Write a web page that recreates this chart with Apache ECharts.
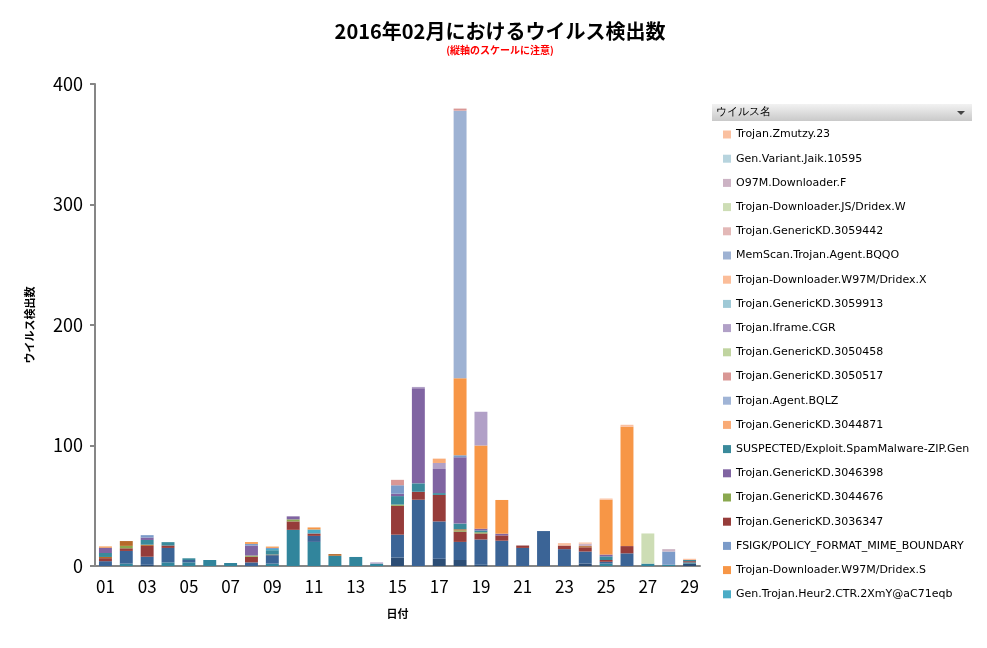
<!DOCTYPE html>
<html lang="ja">
<head>
<meta charset="UTF-8">
<title>ウイルス検出数</title>
<script src="https://cdn.jsdelivr.net/npm/echarts@6/dist/echarts.min.js"></script>
<style>
  html, body { margin: 0; padding: 0; background: #fff; }
  #chart { width: 987px; height: 648px; }
</style>
</head>
<body>
<div id="chart"></div>
<script>
// 日付 (01..29)
var days = [];
for (var i = 1; i <= 29; i++) days.push((i < 10 ? '0' : '') + i);

// 各ウイルスの日別検出数（下から積み上げ順）
var navyVals    = [0,0,1,0,0,0,0,0,0,0,0,0,0,0,7,0,6,5,1,0,0,0,0,2,0,0,0,0,2];
var tealVals    = [0,2,0,3,3,5,2.5,0,2,30,20,8.5,7.5,2,0,0,0,0,0,0,0,0,0,0,2,0,2,1,1];
var blueVals    = [4,10.5,6.7,12,2,0,0,3,7,0,5,0,0,0,19,55,31,15,21,21,15,29,14,10,1.5,10.5,0,0,0];
var kd3036347   = [2.5,2.2,9,2,0,0,0,4.7,0,7,2,0,0,0,24,6.6,22,8.5,5,4.4,2,0,3,3.5,1.5,6,0,0,1];
var kd3044676   = [0,2,0,0,0,0,0,1,0,1.7,0,0,0,0,1,0,0,1,1,0,0,0,0,0,0,0,0,0,0];
var brownVals   = [1,4,1,0,0,0,0,0,0.5,0,0,1.4,0,0,0,0,0,1,0,0,0,0,0,1,0,0,0,0,0];
var suspected   = [3.3,0,3.9,2.8,1.4,0,0,0,3.6,0,0,0,0,0,7,7,1.5,4.7,1.5,0,0,0,0,0,3,0,0,0,1];
var kd3046398   = [4.4,0,2,0,0,0,0,8.3,0,2.5,0,0,0,0,2,79,20,55,1.5,1.4,0,0,0,0,1.5,0,0,0,0];
var heur2       = [0,0,0,0,0,0,0,0,1,0,3.3,0,0,0,0,0,0,0,0,0,0,0,0,0,0,0,0,0,0];
var fsigk       = [0,0,2,0,0,0,0,1.4,1,0,0,0,0,0,7,0,0,1.7,0,0,0,0,0,0,0,0,0,11,0];
var dridexS     = [1,0,0,0,0,0,0,1.4,1,0,1.7,0,0,0,0,0,0,64,69,28,0,0,0,0,45.5,99,0,0,0];
var memscan     = [0,0,0,0,0,0,0,0,0,0,0,0,0,0,0,0,0,222,0,0,0,0,0,0,0,0,0,0,0];
var iframe      = [0,0,0,0,0,0,0,0,0,0,0,0,0,1,0,1,5,0,28,0,0,0,0,0,0,0,0,0,0];
var dridexW     = [0,0,0,0,0,0,0,0,0,0,0,0,0,0,0,0,0,0,0,0,0,0,0,0,0,0,25,0,0];
var kd3050517   = [0,0,0,0,0,0,0,0,0,0,0,0,0,0,4.5,0,0,1.7,0,0,0,0,0,0,0,0,0,0,0];
var o97m        = [0,0,0,0,0,0,0,0,0,0,0,0,0,0,0,0,0,0,0,0,0,0,0,2,0,0,0,2,0];
var kd3044871   = [0,0,0,0,0,0,0,0,0,0,0,0,0,0,0,0,3.6,0,0,0,0,0,0,0,0,0,0,0,0];
var zmutzy      = [0,0,0,0,0,0,0,0,0,0,0,0,0,0,0,0,0,0,0,0,0,0,2,1,1,1.7,0,0,1];
var zeros       = days.map(function(){ return 0; });

var seriesDefs = [
  ['s_navy', navyVals, '#2C4D75'],
  ['s_teal', tealVals, '#31859C'],
  ['s_blue', blueVals, '#3B6496'],
  ['Trojan.GenericKD.3036347', kd3036347, '#963C3A'],
  ['Trojan.GenericKD.3044676', kd3044676, '#8AA84F'],
  ['s_brown', brownVals, '#B66A2A'],
  ['SUSPECTED/Exploit.SpamMalware-ZIP.Gen', suspected, '#3A8A9B'],
  ['Trojan.GenericKD.3046398', kd3046398, '#8064A2'],
  ['Gen.Trojan.Heur2.CTR.2XmY@aC71eqb', heur2, '#4BACC6'],
  ['FSIGK/POLICY_FORMAT_MIME_BOUNDARY', fsigk, '#7B9BC9'],
  ['Trojan-Downloader.W97M/Dridex.S', dridexS, '#F79646'],
  ['MemScan.Trojan.Agent.BQQO', memscan, '#9EB2D3'],
  ['Trojan.Iframe.CGR', iframe, '#B1A0C7'],
  ['Trojan-Downloader.JS/Dridex.W', dridexW, '#CDDDB5'],
  ['Trojan.GenericKD.3050517', kd3050517, '#D99795'],
  ['O97M.Downloader.F', o97m, '#CCB3C4'],
  ['Trojan.GenericKD.3044871', kd3044871, '#F9AB76'],
  ['Trojan.Zmutzy.23', zmutzy, '#FAC0A0'],
  ['Gen.Variant.Jaik.10595', zeros, '#B7D4DE'],
  ['Trojan.GenericKD.3059442', zeros, '#E3B8B7'],
  ['Trojan-Downloader.W97M/Dridex.X', zeros, '#FBBD99'],
  ['Trojan.GenericKD.3059913', zeros, '#9FC9D6'],
  ['Trojan.GenericKD.3050458', zeros, '#C0D4A0'],
  ['Trojan.Agent.BQLZ', zeros, '#A0B4D6']
];

var legendNames = [
  'Trojan.Zmutzy.23', 'Gen.Variant.Jaik.10595', 'O97M.Downloader.F',
  'Trojan-Downloader.JS/Dridex.W', 'Trojan.GenericKD.3059442', 'MemScan.Trojan.Agent.BQQO',
  'Trojan-Downloader.W97M/Dridex.X', 'Trojan.GenericKD.3059913', 'Trojan.Iframe.CGR',
  'Trojan.GenericKD.3050458', 'Trojan.GenericKD.3050517', 'Trojan.Agent.BQLZ',
  'Trojan.GenericKD.3044871', 'SUSPECTED/Exploit.SpamMalware-ZIP.Gen', 'Trojan.GenericKD.3046398',
  'Trojan.GenericKD.3044676', 'Trojan.GenericKD.3036347', 'FSIGK/POLICY_FORMAT_MIME_BOUNDARY',
  'Trojan-Downloader.W97M/Dridex.S', 'Gen.Trojan.Heur2.CTR.2XmY@aC71eqb'
];

var series = seriesDefs.map(function (d) {
  return { name: d[0], type: 'bar', stack: 'total', data: d[1],
           barCategoryGap: '38%', itemStyle: { color: d[2] } };
});

var chart = echarts.init(document.getElementById('chart'));
chart.setOption({
  animation: false,
  textStyle: { fontFamily: '"Noto Sans CJK JP", "DejaVu Sans", sans-serif' },
  title: {
    text: '2016年02月におけるウイルス検出数',
    subtext: '(縦軸のスケールに注意)',
    left: 495, top: 16, textAlign: 'center', itemGap: 4,
    textStyle: { fontSize: 20, fontWeight: 'bold', color: '#000' },
    subtextStyle: { fontSize: 10, fontWeight: 'bold', color: '#FF0000' }
  },
  legend: {
    data: legendNames, orient: 'vertical', left: 718, top: 124,
    itemWidth: 8, itemHeight: 8, itemGap: 13.2, icon: 'rect',
    textStyle: { fontSize: 11, color: '#000', fontFamily: '"DejaVu Sans", sans-serif' }
  },
  graphic: [
    { type: 'rect', left: 712, top: 104, shape: { width: 260, height: 17 },
      style: { fill: { type: 'linear', x: 0, y: 0, x2: 0, y2: 1,
        colorStops: [{ offset: 0, color: '#F2F2F2' }, { offset: 1, color: '#C9C9C9' }] } } },
    { type: 'text', left: 716, top: 106, style: { text: 'ウイルス名', fontSize: 11, fill: '#000' } },
    { type: 'polygon', shape: { points: [[957, 111], [965, 111], [961, 115]] }, style: { fill: '#444' } }
  ],
  grid: { left: 95, right: 287, top: 84, bottom: 82 },
  xAxis: {
    type: 'category', data: days, name: '日付', nameLocation: 'middle', nameGap: 42,
    nameTextStyle: { fontSize: 11, fontWeight: 'bold', color: '#000' },
    axisLine: { lineStyle: { color: '#868686', width: 2 } },
    axisTick: { alignWithLabel: false, length: 5, lineStyle: { color: '#868686', width: 2 } },
    axisLabel: { interval: 1, fontSize: 17, color: '#000', margin: 12 }
  },
  yAxis: {
    type: 'value', min: 0, max: 400, interval: 100,
    name: 'ウイルス検出数', nameLocation: 'middle', nameGap: 60, nameRotate: 90,
    nameTextStyle: { fontSize: 11, fontWeight: 'bold', color: '#000' },
    axisLine: { show: true, lineStyle: { color: '#868686', width: 2 } },
    axisTick: { show: true, length: 5, lineStyle: { color: '#868686', width: 2 } },
    splitLine: { show: false },
    axisLabel: { fontSize: 18, color: '#000', margin: 12 }
  },
  series: series
});
</script>
</body>
</html>
